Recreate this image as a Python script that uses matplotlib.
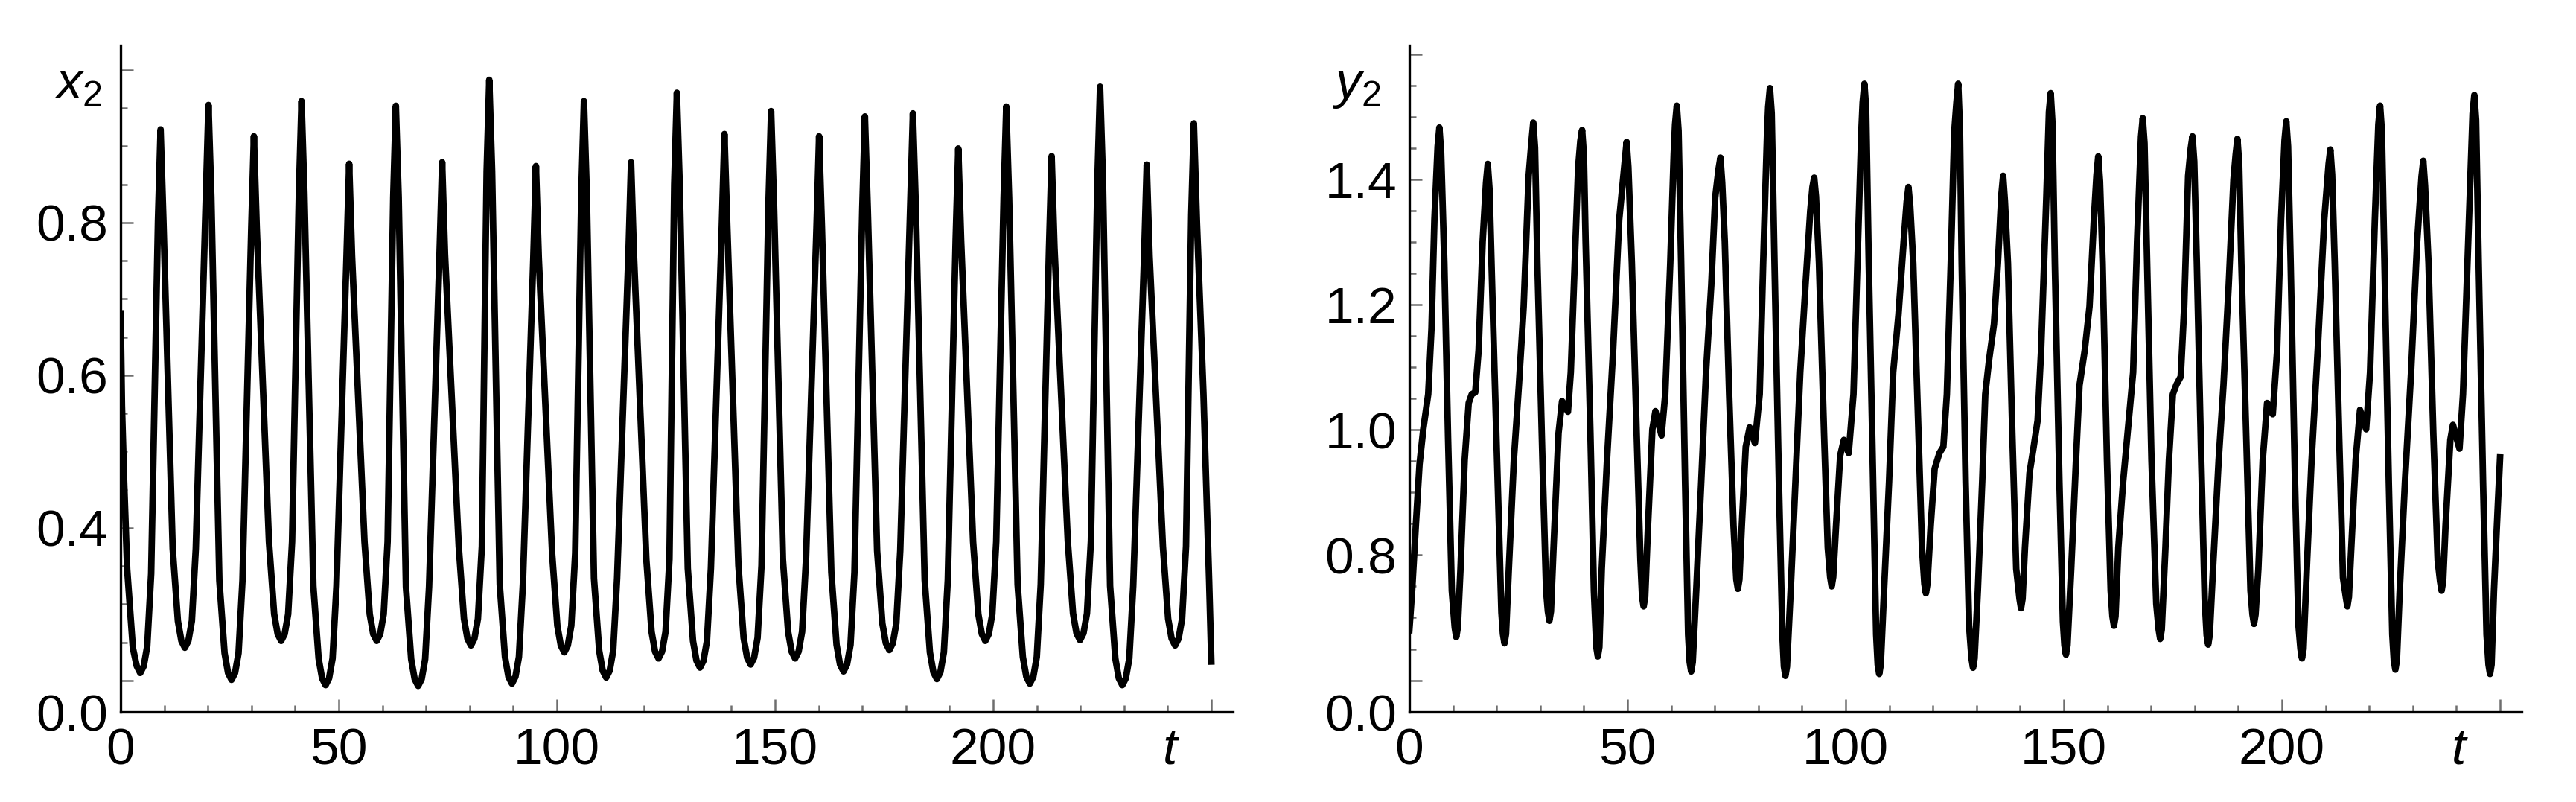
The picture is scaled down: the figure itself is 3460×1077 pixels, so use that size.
import numpy as np
import matplotlib
matplotlib.use('Agg')
import matplotlib.pyplot as plt
from matplotlib.ticker import MultipleLocator, FixedLocator

# x2(t), points, one row per cycle
# (trough, trough flank, rise, peak, fall, flank of next trough)
x2_t = [
    0.0, 0.3, 0.8, 1.5, 2.8, 3.7,
    4.5, 5.3, 6.1, 7.0, 8.56, 9.16, 9.81, 11.93, 13.13, 13.93,
    14.73, 15.53, 16.33, 17.23, 19.54, 20.14, 20.79, 22.63, 23.83, 24.63,
    25.43, 26.23, 27.03, 27.93, 29.95, 30.55, 31.2, 34.0, 35.2, 36.0,
    36.8, 37.6, 38.4, 39.3, 40.87, 41.47, 42.12, 44.18, 45.38, 46.18,
    46.98, 47.78, 48.58, 49.48, 51.79, 52.39, 53.04, 55.9, 57.1, 57.9,
    58.7, 59.5, 60.3, 61.2, 62.49, 63.09, 63.74, 65.4, 66.6, 67.4,
    68.2, 69.0, 69.8, 70.7, 73.1, 73.7, 74.35, 77.5, 78.7, 79.5,
    80.3, 81.1, 81.9, 82.8, 83.9, 84.5, 85.15, 86.9, 88.1, 88.9,
    89.7, 90.5, 91.3, 92.2, 94.6, 95.2, 95.85, 98.9, 100.1, 100.9,
    101.7, 102.5, 103.3, 104.2, 105.6, 106.2, 106.85, 108.5, 109.7, 110.5,
    111.3, 112.1, 112.9, 113.8, 116.4, 117.0, 117.65, 120.5, 121.7, 122.5,
    123.3, 124.1, 124.9, 125.8, 126.9, 127.5, 128.15, 130.0, 131.2, 132.0,
    132.8, 133.6, 134.4, 135.3, 137.8, 138.4, 139.05, 141.6, 142.8, 143.6,
    144.4, 145.2, 146.0, 146.9, 148.5, 149.1, 149.75, 151.8, 153.0, 153.8,
    154.6, 155.4, 156.2, 157.1, 159.5, 160.1, 160.75, 162.9, 164.1, 164.9,
    165.7, 166.5, 167.3, 168.2, 170.0, 170.6, 171.25, 173.4, 174.6, 175.4,
    176.2, 177.0, 177.8, 178.7, 181.0, 181.6, 182.25, 184.3, 185.5, 186.3,
    187.1, 187.9, 188.7, 189.6, 191.4, 192.0, 192.65, 195.4, 196.6, 197.4,
    198.2, 199.0, 199.8, 200.7, 202.4, 203.0, 203.65, 205.6, 206.8, 207.6,
    208.4, 209.2, 210.0, 210.9, 212.8, 213.4, 214.05, 217.1, 218.3, 219.1,
    219.9, 220.7, 221.5, 222.4, 223.9, 224.5, 225.15, 226.8, 228.0, 228.8,
    229.6, 230.4, 231.2, 232.1, 234.6, 235.2, 235.85, 238.9, 240.1, 240.9,
    241.7, 242.5, 243.3, 244.2, 245.4, 246.0, 246.7, 248.2, 249.5, 250.0,
]
x2_v = [
    0.681, 0.56, 0.461, 0.346, 0.243, 0.219,
    0.210, 0.219, 0.245, 0.340, 0.802, 0.922, 0.802, 0.373, 0.278, 0.252,
    0.243, 0.252, 0.278, 0.373, 0.834, 0.954, 0.834, 0.331, 0.236, 0.210,
    0.201, 0.210, 0.236, 0.331, 0.793, 0.913, 0.793, 0.382, 0.287, 0.261,
    0.252, 0.261, 0.287, 0.382, 0.839, 0.959, 0.839, 0.324, 0.229, 0.203,
    0.194, 0.203, 0.229, 0.324, 0.757, 0.877, 0.757, 0.382, 0.287, 0.261,
    0.252, 0.261, 0.287, 0.382, 0.833, 0.953, 0.833, 0.323, 0.228, 0.202,
    0.193, 0.202, 0.228, 0.323, 0.759, 0.879, 0.759, 0.376, 0.281, 0.255,
    0.246, 0.255, 0.281, 0.376, 0.867, 0.987, 0.867, 0.326, 0.231, 0.205,
    0.196, 0.205, 0.231, 0.326, 0.754, 0.874, 0.754, 0.367, 0.272, 0.246,
    0.237, 0.246, 0.272, 0.367, 0.839, 0.959, 0.839, 0.334, 0.239, 0.213,
    0.204, 0.213, 0.239, 0.334, 0.759, 0.879, 0.759, 0.359, 0.264, 0.238,
    0.229, 0.238, 0.264, 0.359, 0.850, 0.970, 0.850, 0.347, 0.252, 0.226,
    0.217, 0.226, 0.252, 0.347, 0.796, 0.916, 0.796, 0.351, 0.256, 0.230,
    0.221, 0.230, 0.256, 0.351, 0.826, 0.946, 0.826, 0.359, 0.264, 0.238,
    0.229, 0.238, 0.264, 0.359, 0.793, 0.913, 0.793, 0.342, 0.247, 0.221,
    0.212, 0.221, 0.247, 0.342, 0.819, 0.939, 0.819, 0.370, 0.275, 0.249,
    0.240, 0.249, 0.275, 0.370, 0.823, 0.943, 0.823, 0.332, 0.237, 0.211,
    0.202, 0.211, 0.237, 0.332, 0.777, 0.897, 0.777, 0.382, 0.287, 0.261,
    0.252, 0.261, 0.287, 0.382, 0.832, 0.952, 0.832, 0.326, 0.231, 0.205,
    0.196, 0.205, 0.231, 0.326, 0.767, 0.887, 0.767, 0.383, 0.288, 0.262,
    0.253, 0.262, 0.288, 0.383, 0.858, 0.978, 0.858, 0.324, 0.229, 0.203,
    0.194, 0.203, 0.229, 0.324, 0.756, 0.876, 0.756, 0.376, 0.281, 0.255,
    0.246, 0.255, 0.281, 0.376, 0.810, 0.930, 0.800, 0.575, 0.330, 0.225,
]

# y2(t), points
# rows alternate: rise from a trough (with the shoulder / small bump), then peak and fall
y2_t = [
    0.0, 0.63, 1.48, 2.33, 3.19, 4.32, 5.07, 5.74,
    6.48, 6.88, 7.28, 8.02, 8.87, 9.73, 10.4,
    10.75, 11.1, 11.72, 12.68, 13.6, 14.3, 15.1, 15.87, 16.8,
    17.57, 17.97, 18.37, 19.1, 20.25, 21.1, 21.45,
    21.8, 22.15, 22.8, 23.95, 25.1, 26.2, 27.35,
    28.0, 28.4, 28.8, 29.35, 30.5, 31.35, 31.75,
    32.1, 32.45, 33.05, 34.2, 35.0, 36.35, 37.0, 37.9, 38.7,
    39.2, 39.6, 40.0, 40.4, 41.5, 42.3, 42.85,
    43.2, 43.55, 44.1, 45.3, 46.7, 48.1,
    49.4, 49.8, 50.2, 51.0, 52.1, 52.96, 53.35,
    53.7, 54.05, 54.7, 55.7, 56.4, 57.8, 58.65, 59.8, 60.6,
    60.9, 61.3, 61.7, 62.3, 63.2, 63.9, 64.25,
    64.6, 64.95, 65.75, 66.9, 68.0, 69.2, 70.1,
    70.9, 71.3, 71.7, 72.3, 73.3, 74.3, 74.95,
    75.3, 75.65, 76.2, 77.1, 78.0, 79.2, 80.3, 81.1, 82.0,
    82.25, 82.65, 83.05, 83.7, 84.7, 85.5, 85.85,
    86.2, 86.55, 87.4, 88.5, 89.6, 90.8, 91.9,
    92.4, 92.8, 93.2, 93.9, 95.05, 95.9, 96.45,
    96.8, 97.15, 97.8, 98.75, 99.6, 100.7, 101.8, 102.7, 103.6,
    103.9, 104.3, 104.7, 105.3, 106.3, 107.0, 107.35,
    107.7, 108.05, 108.8, 109.95, 110.9, 112.1, 113.3,
    114.0, 114.4, 114.8, 115.5, 116.7, 117.5, 118.05,
    118.4, 118.75, 119.5, 120.4, 121.5, 122.4, 123.2, 124.1, 124.9,
    125.4, 125.8, 126.2, 126.6, 127.5, 128.3, 128.85,
    129.2, 129.55, 130.3, 131.3, 132.0, 132.9, 134.0, 134.9,
    135.7, 136.1, 136.5, 137.2, 138.2, 139.1, 139.85,
    140.2, 140.55, 141.1, 142.15, 143.1, 144.0, 144.8, 146.0,
    146.6, 147.0, 147.4, 147.95, 149.0, 149.8, 150.15,
    150.5, 150.85, 151.7, 152.8, 153.6, 154.8, 155.9, 156.9,
    157.5, 157.9, 158.3, 158.9, 159.9, 160.75, 161.15,
    161.5, 161.85, 162.5, 163.6, 164.7, 165.9, 166.8,
    167.7, 168.1, 168.5, 169.1, 170.1, 171.2, 171.75,
    172.1, 172.45, 173.3, 174.1, 175.0, 175.8, 176.8, 177.6, 178.5,
    179.1, 179.5, 179.9, 180.5, 181.5, 182.3, 182.75,
    183.1, 183.45, 184.2, 185.5, 186.6, 187.8, 188.9,
    189.4, 189.8, 190.2, 190.7, 191.8, 192.8, 193.25,
    193.6, 193.95, 194.6, 195.6, 196.6, 197.9, 198.9, 199.8,
    200.6, 201.0, 201.4, 202.0, 203.0, 203.8, 204.25,
    204.6, 204.95, 205.7, 206.8, 208.2, 209.7,
    210.7, 211.1, 211.5, 212.1, 213.1, 214.0, 214.65,
    215.0, 215.35, 215.9, 216.9, 217.9, 219.3, 220.2, 221.3,
    222.1, 222.5, 222.9, 223.5, 224.5, 225.3, 225.65,
    226.0, 226.35, 227.0, 228.2, 229.6, 231.0,
    232.0, 232.4, 232.8, 233.6, 234.7, 235.7, 236.25,
    236.6, 236.95, 237.5, 238.6, 239.2, 240.7, 241.5, 242.7,
    243.7, 244.1, 244.5, 245.1, 246.1, 246.9, 247.35,
    247.7, 248.05, 248.6, 249.5, 250.0,
]
y2_v = [
    0.680, 0.743, 0.847, 0.945, 1.001, 1.057, 1.162, 1.336,
    1.453, 1.483, 1.443, 1.266, 0.987, 0.743, 0.684,
    0.669, 0.684, 0.778, 0.952, 1.043, 1.057, 1.060, 1.127, 1.301,
    1.395, 1.425, 1.385, 1.197, 0.917, 0.708, 0.674,
    0.659, 0.674, 0.778, 0.952, 1.071, 1.197, 1.406,
    1.461, 1.491, 1.451, 1.266, 0.952, 0.743, 0.710,
    0.695, 0.710, 0.812, 0.995, 1.046, 1.029, 1.092, 1.266, 1.420,
    1.462, 1.479, 1.439, 1.301, 0.995, 0.743, 0.653,
    0.638, 0.653, 0.778, 0.952, 1.127, 1.336,
    1.430, 1.460, 1.420, 1.266, 0.995, 0.792, 0.733,
    0.718, 0.733, 0.847, 1.001, 1.030, 0.991, 1.057, 1.266, 1.441,
    1.488, 1.518, 1.478, 1.266, 0.917, 0.673, 0.629,
    0.614, 0.629, 0.743, 0.917, 1.092, 1.231, 1.371,
    1.418, 1.435, 1.395, 1.301, 1.057, 0.847, 0.761,
    0.746, 0.761, 0.847, 0.973, 1.004, 0.979, 1.057, 1.266, 1.476,
    1.516, 1.546, 1.506, 1.266, 0.917, 0.673, 0.622,
    0.607, 0.622, 0.743, 0.917, 1.092, 1.231, 1.350,
    1.388, 1.403, 1.373, 1.266, 0.995, 0.812, 0.765,
    0.750, 0.765, 0.847, 0.959, 0.984, 0.963, 1.057, 1.266, 1.476,
    1.523, 1.553, 1.513, 1.266, 0.917, 0.673, 0.625,
    0.610, 0.625, 0.743, 0.917, 1.092, 1.183, 1.301,
    1.365, 1.388, 1.358, 1.266, 0.995, 0.812, 0.754,
    0.739, 0.754, 0.847, 0.938, 0.963, 0.973, 1.057, 1.266, 1.476,
    1.523, 1.553, 1.480, 1.266, 0.917, 0.687, 0.635,
    0.620, 0.635, 0.743, 0.917, 1.057, 1.113, 1.169, 1.266,
    1.376, 1.406, 1.366, 1.266, 0.995, 0.778, 0.730,
    0.715, 0.730, 0.812, 0.931, 0.973, 1.015, 1.127, 1.371,
    1.508, 1.538, 1.490, 1.266, 0.917, 0.694, 0.656,
    0.641, 0.656, 0.778, 0.952, 1.071, 1.127, 1.197, 1.336,
    1.407, 1.437, 1.397, 1.266, 0.952, 0.743, 0.702,
    0.687, 0.702, 0.812, 0.917, 1.001, 1.092, 1.301,
    1.468, 1.498, 1.458, 1.266, 0.952, 0.722, 0.681,
    0.666, 0.681, 0.812, 0.952, 1.057, 1.072, 1.085, 1.197, 1.406,
    1.450, 1.469, 1.429, 1.266, 0.952, 0.729, 0.672,
    0.657, 0.672, 0.778, 0.952, 1.071, 1.231, 1.400,
    1.440, 1.465, 1.425, 1.266, 0.995, 0.743, 0.705,
    0.690, 0.705, 0.778, 0.952, 1.043, 1.025, 1.127, 1.336,
    1.463, 1.493, 1.453, 1.266, 0.917, 0.687, 0.650,
    0.635, 0.650, 0.778, 0.952, 1.127, 1.336,
    1.425, 1.448, 1.408, 1.266, 0.995, 0.764, 0.733,
    0.718, 0.733, 0.812, 0.952, 1.032, 1.001, 1.092, 1.336,
    1.488, 1.518, 1.478, 1.266, 0.917, 0.673, 0.632,
    0.617, 0.632, 0.743, 0.917, 1.092, 1.301,
    1.405, 1.430, 1.390, 1.266, 0.995, 0.792, 0.758,
    0.743, 0.758, 0.847, 0.984, 1.008, 0.970, 1.057, 1.301,
    1.505, 1.535, 1.495, 1.266, 0.917, 0.673, 0.625,
    0.610, 0.625, 0.743, 0.882, 0.956,
]

t_ticks = [0, 50, 100, 150, 200, 250]
t_labels = ['0', '50', '100', '150', '200', '']
x2_ticks = [0.2, 0.4, 0.6, 0.8, 1.0]
x2_labels = ['', '0.4', '0.6', '0.8', '']
y2_ticks = [0.6, 0.8, 1.0, 1.2, 1.4, 1.6]
y2_labels = ['', '0.8', '1.0', '1.2', '1.4', '']

plt.rcParams['font.family'] = ['Liberation Sans', 'DejaVu Sans']
plt.rcParams['mathtext.fontset'] = 'custom'
plt.rcParams['mathtext.rm'] = 'Liberation Sans'
plt.rcParams['mathtext.it'] = 'Liberation Sans:italic'

FS = 50
TICK_GRAY = '#6e6e6e'


def style_axes(ax, ylim, yticks, ylabels, yminor, name, name_dx):
    ax.set_xlim(0, 255)
    ax.set_ylim(*ylim)
    for s in ['top', 'right']:
        ax.spines[s].set_visible(False)
    for s in ['left', 'bottom']:
        ax.spines[s].set_linewidth(2.4)
        ax.spines[s].set_color('black')
        ax.spines[s].set_zorder(3)

    ax.set_xticks(t_ticks)
    ax.set_xticklabels(t_labels)
    ax.xaxis.set_minor_locator(MultipleLocator(10))
    ax.set_yticks(yticks)
    ax.set_yticklabels(ylabels)
    ax.yaxis.set_minor_locator(FixedLocator(yminor))

    ax.tick_params(which='both', direction='in', color=TICK_GRAY, width=1.8,
                   labelsize=FS, top=False, right=False)
    ax.tick_params(which='major', length=12.2)
    ax.tick_params(which='minor', length=6.8)
    ax.tick_params(axis='x', pad=15)
    ax.tick_params(axis='y', pad=12)
    ax.xaxis.get_major_ticks()[0].tick1line.set_visible(False)

    # bottom of the y axis carries a "0.0" label in the original
    ax.annotate('0.0', xy=(0, ylim[0]), xycoords=('axes fraction', 'data'),
                xytext=(-12, 0), textcoords='offset points',
                ha='right', va='center_baseline', fontsize=FS)
    ax.annotate('t', xy=(240.5, 0), xycoords=('data', 'axes fraction'),
                xytext=(0, -15), textcoords='offset points',
                ha='center', va='top', fontsize=FS, fontstyle='italic')
    ax.annotate(name, xy=(0, 1), xycoords='axes fraction',
                xytext=(name_dx, -51), textcoords='offset points',
                ha='right', va='baseline', fontsize=FS)


fig = plt.figure(figsize=(34.6, 10.77), dpi=100)
ax1 = fig.add_axes([0.046821, 0.112349, 0.431879, 0.831012])
ax2 = fig.add_axes([0.547110, 0.112349, 0.431879, 0.831012])

ax1.plot(x2_t, x2_v, color='black', lw=6.3, solid_joinstyle='round')
ax2.plot(y2_t, y2_v, color='black', lw=6.3, solid_joinstyle='round')

x2_minor = [round(0.2 + 0.05 * i, 2) for i in range(17)]
y2_minor = [round(0.6 + 0.05 * i, 2) for i in range(21)]
style_axes(ax1, (0.159, 1.032), x2_ticks, x2_labels, x2_minor, r'$x_2$', -18)
style_axes(ax2, (0.5495, 1.6142), y2_ticks, y2_labels, y2_minor, r'$y_2$', -27)

fig.savefig('out.png', dpi=100)
